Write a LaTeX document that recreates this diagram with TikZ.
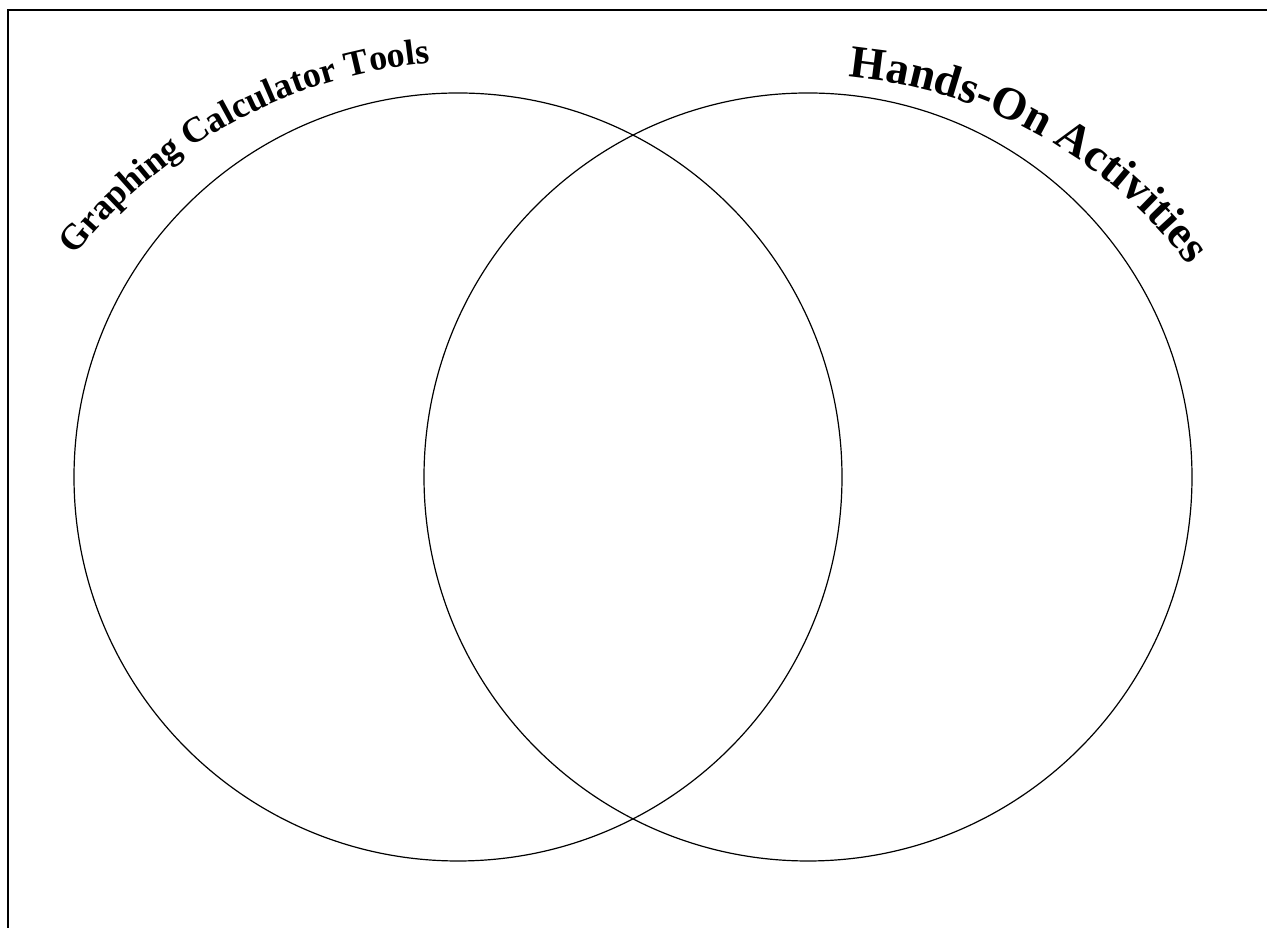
\documentclass[tikz,border=0pt]{standalone}
\usepackage{fontspec}
\setmainfont{Liberation Serif}
\usetikzlibrary{decorations.text,calc}
\begin{document}
\begin{tikzpicture}[x=1pt,y=1pt,
  setcircle/.style={circle, draw=black, line width=1.2pt, minimum size=768pt, inner sep=0pt},
  frameline/.style={draw=black, line width=1.6pt}]
\useasboundingbox (0,0) rectangle (1267,928);
\clip (0,0) rectangle (1267,928);
\fill[white] (0,0) rectangle (1267,928);
% frame
\coordinate (fb) at (8,-20);
\coordinate (ftl) at (8,918);
\coordinate (fr) at (1290,918);
\draw[frameline] (fb) -- (ftl) -- (fr);
% circles
\node[setcircle] (L) at (458,451) {};
\node[setcircle] (R) at (808,451) {};
% titles along arcs
\coordinate (lc) at (476,357);
\coordinate (rc) at (806,373);
\path[decorate, decoration={text along path, text align=center,
  text={|\fontsize{36}{36}\selectfont\bfseries|Graphing Calculator Tools}}]
  ($(lc)+(155:510)$) arc[start angle=155, end angle=82, radius=510];
\path[decorate, decoration={text along path, text align=center,
  text={|\fontsize{46}{46}\selectfont\bfseries|Hands-On Activities}}]
  ($(rc)+(100:480)$) arc[start angle=100, end angle=22, radius=480];
\end{tikzpicture}
\end{document}
